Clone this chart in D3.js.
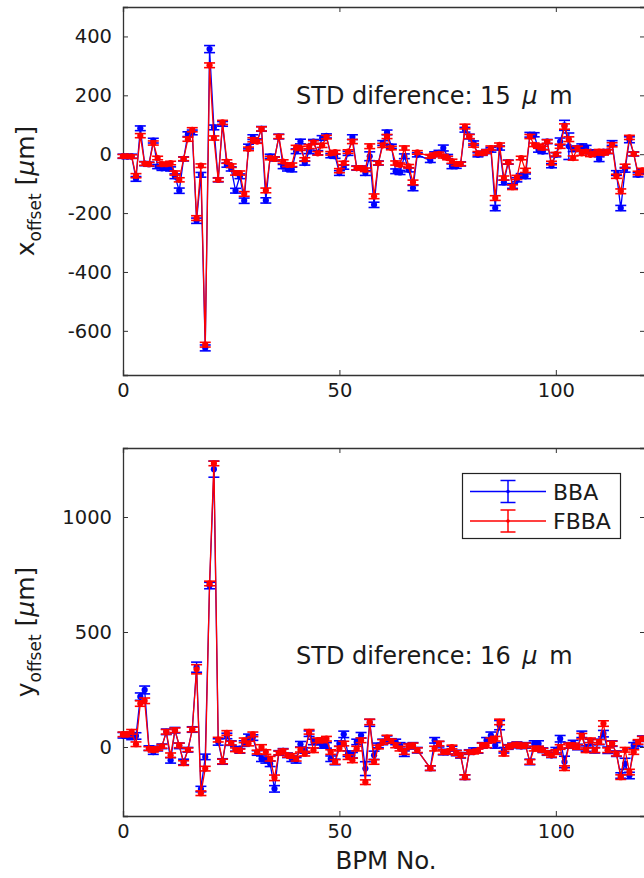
<!DOCTYPE html>
<html><head><meta charset="utf-8">
<script src="https://cdn.jsdelivr.net/npm/d3@7"></script>
<style>body{margin:0;background:#fff;} svg{display:block;} text{font-family:"DejaVu Sans",sans-serif;fill:#1a1a1a;}</style>
</head><body>
<svg id="c" width="644" height="878"></svg>
<script>
const bpm = d3.range(0, 121);
const xTicks = [0, 50, 100];
const xOffTicks = [-600, -400, -200, 0, 200, 400];
const yOffTicks = [0, 500, 1000];
const seriesNames = ["BBA", "FBBA"];
const stdTexts = ["15", "16"];

const xBBA = [-7,-8,-7,-84,88,-32,-34,46,-42,-48,-45,-50,-75,-124,-16,68,74,-226,-70,-658,357,91,-87,103,-37,-50,-124,-75,-158,26,58,45,86,-157,-7,-16,60,-42,-50,-52,10,43,-30,10,43,5,55,62,-5,-7,-64,-44,3,58,-47,-47,-64,-7,-172,-30,38,74,27,-58,-62,-7,-53,-115,-2,null,null,-21,0,5,21,-8,-41,-41,-33,83,60,38,-2,3,9,15,-183,21,-96,-27,-108,-87,-73,-75,66,66,15,9,43,-39,-2,43,98,27,17,21,27,23,8,3,-17,8,9,38,-64,-183,-53,49,1,-70,-60];
const xFBBA = [-7,-7,-8,-73,63,-32,-34,38,-13,-34,-34,-30,-64,-87,-16,51,83,-217,-39,-647,302,55,-87,108,-25,-39,-64,-64,-135,18,49,43,86,-123,-13,-16,60,-25,-36,-36,23,20,-18,26,40,3,30,58,3,7,-56,-30,9,43,-47,-47,-53,27,-143,-30,30,60,21,-30,-36,21,-41,-96,6,null,null,-7,-2,1,-7,-13,-24,-33,-33,94,60,30,3,3,9,21,-149,32,-81,-27,-112,-79,-13,-55,60,32,27,21,43,-30,0,27,94,51,-13,21,3,9,-2,3,9,3,9,32,-75,-126,-41,57,1,-64,-55];
const xBBAErr = [7,7,7,8,8,7,7,8,7,7,7,7,8,9,7,8,8,9,8,10,12,8,7,8,7,7,8,8,9,8,8,7,8,9,7,7,8,7,7,8,8,8,7,8,7,7,8,7,7,7,8,7,7,8,7,7,8,15,9,7,8,8,7,8,7,8,7,9,7,0,0,7,8,8,10,7,8,7,7,8,8,7,7,7,7,8,9,7,8,7,8,7,7,8,8,7,8,7,7,7,7,12,17,45,8,7,8,7,7,7,8,7,7,8,8,9,8,10,7,7,8];
const xFBBAErr = [6,6,6,7,7,6,6,7,6,6,6,6,7,7,6,7,7,8,6,8,8,7,6,7,6,6,7,7,8,6,7,6,7,8,6,6,7,6,6,6,7,7,6,7,6,6,7,6,6,6,7,6,6,7,6,6,6,8,8,6,7,7,6,7,6,7,6,8,6,0,0,6,6,6,6,6,7,6,6,8,7,6,6,6,6,7,8,6,7,6,8,7,6,7,7,6,7,6,6,6,6,7,9,8,7,6,7,6,6,6,7,6,6,7,7,8,7,7,6,6,7];
const yBBA = [51,50,44,48,219,248,-5,-22,-7,3,66,-58,73,5,-65,-12,76,347,-183,-43,702,1208,22,-63,48,17,-8,-17,15,44,41,-26,-51,-58,-73,-182,-26,-17,-36,-51,-58,12,-15,58,22,22,7,7,-51,-65,15,55,-29,-36,22,51,-94,105,-36,7,22,36,26,22,7,-29,3,7,-14,null,null,-92,29,12,-22,-22,-7,-26,-36,-131,-22,-14,-17,7,29,51,7,95,-14,0,7,10,3,7,-65,15,15,-14,-26,-36,-14,36,-65,7,17,0,55,-7,22,-14,22,58,-14,15,-29,-124,-73,-124,7,15,36];
const yFBBA = [55,55,66,12,189,201,-7,-14,-7,3,66,-36,73,7,-70,-12,76,338,-201,-94,711,1233,32,-63,61,17,-12,-17,29,15,55,-22,0,-22,-51,-134,-26,-17,-36,-39,-51,-12,-29,66,-14,29,29,36,-22,-65,-7,15,-44,-58,-7,29,-153,109,-65,0,22,41,26,7,-7,-22,3,7,-14,null,null,-92,-7,15,-22,-22,0,-26,-36,-131,-22,-22,-17,7,7,29,36,109,-29,0,7,10,3,7,-65,-7,-7,-14,-26,-36,-22,0,-92,7,7,0,47,-14,29,-14,22,102,-14,15,-29,-131,-12,-109,-22,22,36];
const yBBAErr = [12,12,12,14,16,17,10,10,10,10,12,12,12,12,12,10,12,22,12,12,14,35,14,12,12,10,10,10,12,12,12,10,12,12,12,14,10,10,10,12,12,12,12,12,12,12,12,12,12,12,12,14,12,12,12,12,30,15,18,10,12,12,10,12,12,12,12,12,12,0,0,10,12,12,12,10,10,12,12,10,10,10,10,12,12,14,12,20,12,10,10,12,10,12,12,12,12,10,10,10,12,14,25,12,12,12,14,12,12,12,12,14,14,12,12,12,24,14,12,12,12];
const yFBBAErr = [10,10,10,10,12,12,8,8,8,8,10,10,10,10,10,8,10,20,10,10,10,10,10,10,10,8,8,8,10,10,10,8,10,10,10,12,8,8,8,10,10,10,10,10,10,10,10,10,10,10,10,10,10,10,10,10,10,12,10,8,10,10,8,10,10,10,10,10,10,0,0,10,10,10,10,8,8,10,10,10,8,8,8,10,10,10,10,12,10,8,8,10,8,10,10,10,10,8,8,8,10,10,10,10,10,10,12,10,10,10,10,12,10,10,10,10,10,12,10,10,10];

const colors = ["#0000ff", "#ff0000"];
const svg = d3.select("#c");
const axisColor = "#333";

const x = d3.scaleLinear().domain([0, 120.6]).range([123, 645]);

function panel(top, bottom, domain, yTicks, valsArr, errArr, stdText, textY, labelMain, showXLabel) {
  const y = d3.scaleLinear().domain(domain).range([bottom, top]);
  const g = svg.append("g");
  const ax = (sel) => { sel.select(".domain").attr("stroke", axisColor).attr("stroke-width", 1.3); sel.selectAll(".tick line").attr("stroke", axisColor); sel.selectAll("text").attr("font-size", 19.5).attr("fill", "#1a1a1a").attr("font-family", "DejaVu Sans"); };
  g.append("g").attr("transform", `translate(0,${bottom})`).call(d3.axisBottom(x).tickValues(xTicks).tickSize(-5).tickPadding(8).tickFormat(d => String(d))).call(ax);
  g.append("g").attr("transform", `translate(0,${top})`).call(d3.axisTop(x).tickValues(xTicks).tickSize(-5).tickFormat("")).call(ax);
  g.append("g").attr("transform", `translate(123,0)`).call(d3.axisLeft(y).tickValues(yTicks).tickSize(-5).tickPadding(11).tickFormat(d => String(d))).call(ax);
  g.append("g").attr("transform", `translate(645,0)`).call(d3.axisRight(y).tickValues(yTicks).tickSize(-5).tickFormat("")).call(ax);

  const t = g.append("text").attr("x", 296).attr("y", textY).attr("font-size", 24);
  t.append("tspan").text("STD diference: " + stdText + " ");
  t.append("tspan").attr("font-style", "italic").attr("dx", 4).text("μ");
  t.append("tspan").attr("dx", 4).text(" m");

  const lab = g.append("text").attr("transform", `translate(34,${(top + bottom) / 2}) rotate(-90)`).attr("text-anchor", "middle").attr("font-size", 25);
  lab.append("tspan").text(labelMain);
  lab.append("tspan").attr("font-size", 17).attr("dy", 7).text("offset");
  lab.append("tspan").attr("dy", -7).text(" [");
  lab.append("tspan").attr("font-style", "italic").text("μ");
  lab.append("tspan").text("m]");

  if (showXLabel) {
    g.append("text").attr("x", 386).attr("y", 869).attr("text-anchor", "middle").attr("font-size", 24.5).text("BPM No.");
  }

  const cap = 5.5;
  valsArr.forEach((vals, s) => {
    const pts = bpm.map((b, i) => ({ b, v: vals[i], e: errArr[s][i] })).filter(d => d.v !== null);
    const sg = g.append("g");
    const c = colors[s];
    const eb = sg.selectAll("g.eb").data(pts).join("g");
    eb.append("line").attr("x1", d => x(d.b)).attr("x2", d => x(d.b)).attr("y1", d => y(d.v - d.e)).attr("y2", d => y(d.v + d.e)).attr("stroke", c).attr("stroke-width", 1.4);
    eb.append("line").attr("x1", d => x(d.b) - cap).attr("x2", d => x(d.b) + cap).attr("y1", d => y(d.v - d.e)).attr("y2", d => y(d.v - d.e)).attr("stroke", c).attr("stroke-width", 1.6);
    eb.append("line").attr("x1", d => x(d.b) - cap).attr("x2", d => x(d.b) + cap).attr("y1", d => y(d.v + d.e)).attr("y2", d => y(d.v + d.e)).attr("stroke", c).attr("stroke-width", 1.6);
    sg.append("path").datum(pts).attr("d", d3.line().x(d => x(d.b)).y(d => y(d.v))).attr("fill", "none").attr("stroke", c).attr("stroke-width", 1.3);
    sg.selectAll("circle").data(pts).join("circle").attr("cx", d => x(d.b)).attr("cy", d => y(d.v)).attr("r", 3.1).attr("fill", c);
  });
  return y;
}

panel(7, 375, [-750, 500], xOffTicks, [xBBA, xFBBA], [xBBAErr, xFBBAErr], stdTexts[0], 104, "x", false);
panel(448, 816, [-300, 1300], yOffTicks, [yBBA, yFBBA], [yBBAErr, yFBBAErr], stdTexts[1], 664, "y", true);

const lg = svg.append("g");
lg.append("rect").attr("x", 462.5).attr("y", 473.5).attr("width", 158).attr("height", 65).attr("fill", "#fff").attr("stroke", "#222").attr("stroke-width", 1.2);
seriesNames.forEach((name, i) => {
  const cy = 491.5 + i * 29.5;
  const c = colors[i];
  lg.append("line").attr("x1", 470).attr("x2", 546).attr("y1", cy).attr("y2", cy).attr("stroke", c).attr("stroke-width", 1.3);
  lg.append("line").attr("x1", 508).attr("x2", 508).attr("y1", cy - 11).attr("y2", cy + 11).attr("stroke", c).attr("stroke-width", 1.5);
  lg.append("line").attr("x1", 500.5).attr("x2", 515.5).attr("y1", cy - 11).attr("y2", cy - 11).attr("stroke", c).attr("stroke-width", 1.5);
  lg.append("line").attr("x1", 500.5).attr("x2", 515.5).attr("y1", cy + 11).attr("y2", cy + 11).attr("stroke", c).attr("stroke-width", 1.5);
  lg.append("circle").attr("cx", 508).attr("cy", cy).attr("r", 1.8).attr("fill", c);
  lg.append("text").attr("x", 553).attr("y", cy + 8).attr("font-size", 22).text(name);
});
</script>
</body></html>
